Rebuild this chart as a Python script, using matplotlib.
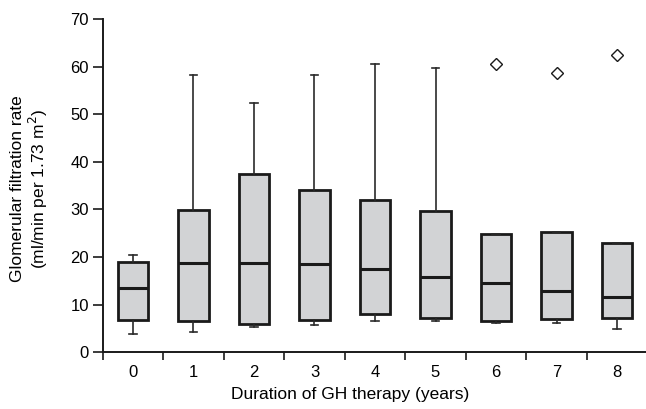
import matplotlib
matplotlib.use("Agg")
import matplotlib.pyplot as plt
from matplotlib.ticker import FixedLocator

categories = ["0", "1", "2", "3", "4", "5", "6", "7", "8"]
whisker_low = [3.9, 4.2, 5.3, 5.8, 6.5, 6.6, 6.2, 6.2, 4.9]
q1 = [6.8, 6.5, 6.0, 6.7, 8.1, 7.2, 6.6, 7.0, 7.2]
median = [13.5, 18.7, 18.7, 18.6, 17.4, 15.9, 14.6, 12.9, 11.6]
q3 = [19.0, 29.9, 37.4, 34.0, 32.0, 29.7, 24.9, 25.2, 22.9]
whisker_high = [20.5, 58.3, 52.4, 58.3, 60.6, 59.8, 24.9, 25.2, 22.9]
outliers = [[], [], [], [], [], [], [60.5], [58.7], [62.5]]

plt.rcParams['font.family'] = ['Liberation Sans', 'DejaVu Sans']

fig = plt.figure(figsize=(6.46, 4.09), dpi=100)
ax = fig.add_axes([0.159, 0.139, 0.843, 0.814])

stats = []
for i in range(len(categories)):
    stats.append(dict(whislo=whisker_low[i], q1=q1[i], med=median[i], q3=q3[i],
                      whishi=whisker_high[i], fliers=outliers[i], label=categories[i]))

positions = list(range(len(categories)))
ax.bxp(stats, positions=positions, widths=0.5, patch_artist=True, showcaps=True,
       boxprops=dict(facecolor="#d2d3d5", edgecolor="#1a1a1a", linewidth=2.0),
       medianprops=dict(color="#1a1a1a", linewidth=2.2),
       whiskerprops=dict(color="#2a2a2a", linewidth=1.2),
       capprops=dict(color="#2a2a2a", linewidth=1.2),
       capwidths=0.13,
       flierprops=dict(marker="D", markersize=6, markerfacecolor="white",
                       markeredgecolor="#1a1a1a", markeredgewidth=1.0, linestyle="none"))

ax.set_xlim(-0.5, len(categories) - 0.5)
ax.set_ylim(0, 70)
ax.set_yticks(range(0, 71, 10))
ax.set_xticks(positions)
ax.set_xticklabels(categories)
ax.xaxis.set_minor_locator(FixedLocator([p - 0.5 for p in positions]))
ax.tick_params(axis="x", which="major", length=0, pad=9, labelsize=12)
ax.tick_params(axis="x", which="minor", length=6, width=1.2, direction="out", color="#1a1a1a")
ax.tick_params(axis="y", length=7, width=1.2, direction="out", labelsize=12, color="#1a1a1a", pad=3)

for s in ["top", "right"]:
    ax.spines[s].set_visible(False)
for s in ["left", "bottom"]:
    ax.spines[s].set_linewidth(1.4)
    ax.spines[s].set_color("#1a1a1a")

ax.set_xlabel("Duration of GH therapy (years)", fontsize=12.5)
ax.xaxis.set_label_coords(0.455, -0.105)
ax.set_ylabel("Glomerular filtration rate\n(ml/min per 1.73 m$^2$)", fontsize=12.5,
              linespacing=1.1)
ax.yaxis.set_label_coords(-0.097, 0.49)

fig.savefig("out.png", dpi=100)
